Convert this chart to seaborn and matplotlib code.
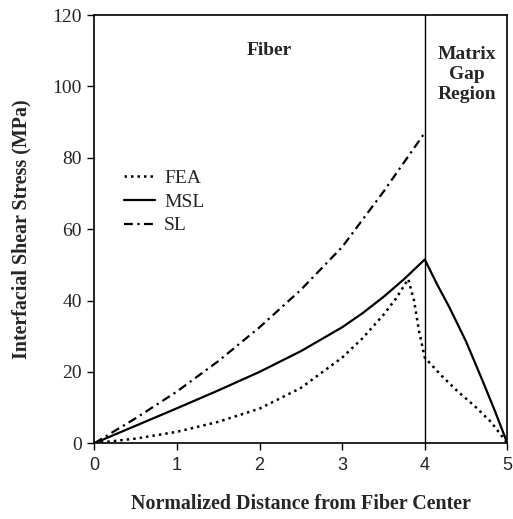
import numpy as np
import pandas as pd
import matplotlib
matplotlib.use("Agg")
import matplotlib.pyplot as plt
import seaborn as sns

sns.set_theme(style="white")
plt.rcParams['font.family'] = ['Liberation Serif', 'DejaVu Serif']

# Data
fea_x = [0, 0.5, 1.0, 1.5, 2.0, 2.5, 3.0, 3.25, 3.5, 3.65, 3.8, 3.87, 3.93, 4.0, 4.2, 4.4, 4.6, 4.8, 5.0]
fea_y = [0, 1.3, 3.2, 6.0, 9.7, 15.5, 24.0, 29.5, 36.0, 40.5, 46.0, 40.0, 31.5, 24.0, 19.0, 14.5, 10.5, 6.0, 0]

msl_x = [0, 0.5, 1.0, 1.5, 2.0, 2.5, 3.0, 3.25, 3.5, 3.75, 4.0, 4.15, 4.3, 4.5, 4.7, 4.85, 5.0]
msl_y = [0, 4.9, 9.8, 14.8, 20.0, 25.8, 32.5, 36.5, 41.0, 46.0, 51.5, 44.5, 38.0, 28.5, 17.5, 9.0, 0]

sl_x = [0, 0.5, 1.0, 1.5, 2.0, 2.5, 3.0, 3.5, 4.0]
sl_y = [0, 7.0, 14.5, 23.0, 32.5, 43.0, 55.0, 70.5, 87.0]

x_ticks = [0, 1, 2, 3, 4, 5]
y_ticks = [0, 20, 40, 60, 80, 100, 120]

fig = plt.figure(figsize=(5.13, 5.19), dpi=100)
ax = fig.add_axes([0.184, 0.146, 0.805, 0.825])

sns.lineplot(x=fea_x, y=fea_y, ax=ax, color='black', lw=1.8,
             linestyle=(0, (1, 1.6)), label='FEA')
sns.lineplot(x=msl_x, y=msl_y, ax=ax, color='black', lw=1.6,
             linestyle='-', label='MSL')
sns.lineplot(x=sl_x, y=sl_y, ax=ax, color='black', lw=1.6,
             linestyle=(0, (4, 2, 1, 2)), label='SL')

ax.axvline(4, color='black', lw=1.0)

ax.set_xlim(0, 5)
ax.set_ylim(0, 120)
ax.set_xticks(x_ticks)
ax.set_yticks(y_ticks)
ax.set_xticklabels([str(t) for t in x_ticks], family=['Liberation Sans'], fontsize=13)
ax.set_yticklabels([str(t) for t in y_ticks], fontsize=14)
ax.tick_params(axis='both', direction='out', length=5, width=1, color='black',
               bottom=True, left=True, top=False, right=False, pad=4)
ax.tick_params(axis='x', pad=5)
for s in ax.spines.values():
    s.set_color('black')
    s.set_linewidth(1.2)

ax.set_xlabel('Normalized Distance from Fiber Center', fontsize=14.4,
              fontweight='bold', labelpad=14)
ax.set_ylabel('Interfacial Shear Stress (MPa)', fontsize=14.4,
              fontweight='bold', labelpad=15)

ax.text(2.12, 110, 'Fiber', fontsize=14, fontweight='bold', ha='center', va='center')
ax.text(4.51, 103.4, 'Matrix\nGap\nRegion', fontsize=14, fontweight='bold',
        ha='center', va='center', linespacing=1.25)

ax.legend(loc='upper left', bbox_to_anchor=(0.072, 0.64), frameon=False,
          fontsize=14, handlelength=1.6, handletextpad=0.45, labelspacing=0.32,
          borderpad=0, borderaxespad=0)

fig.savefig('out.png', dpi=100, facecolor='white')
